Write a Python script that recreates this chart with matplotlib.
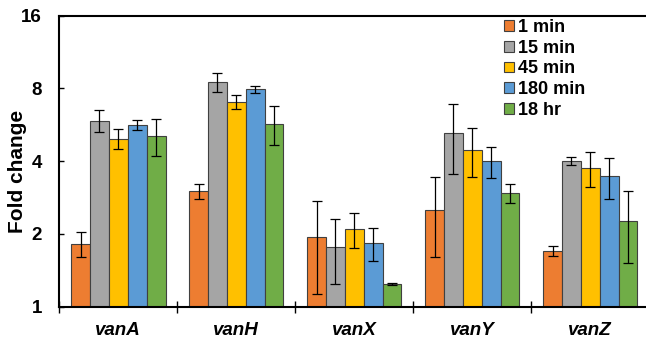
import numpy as np
import matplotlib
matplotlib.use('Agg')
import matplotlib.pyplot as plt
from matplotlib.ticker import FixedLocator, NullFormatter

plt.rcParams['font.family'] = ['Liberation Sans', 'DejaVu Sans']
plt.rcParams['font.weight'] = 'bold'
plt.rcParams['axes.labelweight'] = 'bold'

genes = ['vanA', 'vanH', 'vanX', 'vanY', 'vanZ']
times = ['1 min', '15 min', '45 min', '180 min', '18 hr']
colors = ['#ED7D31', '#A5A5A5', '#FFC000', '#5B9BD5', '#70AD47']

# fold change per time point, one value per gene
fold = {
    '1 min':   [1.82, 3.01, 1.94, 2.52, 1.70],
    '15 min':  [5.88, 8.51, 1.77, 5.22, 4.01],
    '45 min':  [4.96, 7.05, 2.10, 4.46, 3.75],
    '180 min': [5.63, 7.94, 1.83, 4.01, 3.46],
    '18 hr':   [5.10, 5.72, 1.24, 2.95, 2.26],
}
# standard deviation
sd = {
    '1 min':   [0.21, 0.22, 0.81, 0.92, 0.08],
    '15 min':  [0.61, 0.78, 0.53, 1.68, 0.17],
    '45 min':  [0.45, 0.49, 0.35, 1.01, 0.62],
    '180 min': [0.27, 0.26, 0.29, 0.59, 0.68],
    '18 hr':   [0.89, 1.06, 0.01, 0.26, 0.74],
}

fig = plt.figure(figsize=(6.46, 3.42), dpi=100)
ax = fig.add_axes([0.0918, 0.1032, 0.9133, 0.851])

x = np.arange(len(genes))
w = 0.16
for i, t in enumerate(times):
    ax.bar(x + (i - 2) * w, fold[t], w, color=colors[i], edgecolor='#404040',
           linewidth=0.8, label=t, zorder=2)
    ax.errorbar(x + (i - 2) * w, fold[t], yerr=sd[t], fmt='none', ecolor='black',
                elinewidth=0.9, capsize=3.5, capthick=0.9, zorder=3)

ax.set_yscale('log', base=2)
ax.set_ylim(1, 16)
ax.set_yticks([1, 2, 4, 8, 16])
ax.set_yticklabels(['1', '2', '4', '8', '16'])
ax.yaxis.set_minor_formatter(NullFormatter())
ax.yaxis.set_minor_locator(FixedLocator([]))
ax.tick_params(axis='y', direction='in', length=3.6, width=1, labelsize=13.5, pad=12.5)

ax.set_xlim(-0.5, 4.5)
ax.set_xticks(x)
ax.set_xticklabels(genes, fontstyle='italic', fontsize=13.5)
ax.xaxis.set_minor_locator(FixedLocator(np.arange(-0.5, 4.5, 1.0)))
ax.tick_params(axis='x', which='major', length=0, pad=11)
ax.tick_params(axis='x', which='minor', direction='inout', length=8, width=1)

for s in ['left', 'bottom', 'top']:
    ax.spines[s].set_linewidth(1.5)
ax.spines['right'].set_visible(False)

fig.text(17.5 / 646, 0.5, 'Fold change', rotation=90, ha='center', va='center',
         fontsize=15, fontweight='bold')

ax.legend(loc='upper left', bbox_to_anchor=(0.780, 0.944), bbox_transform=fig.transFigure,
          frameon=False, fontsize=13, handlelength=0.55, handleheight=0.55,
          handletextpad=0.25, labelspacing=0.2, borderpad=0, borderaxespad=0)

fig.savefig('out.png', dpi=100)
